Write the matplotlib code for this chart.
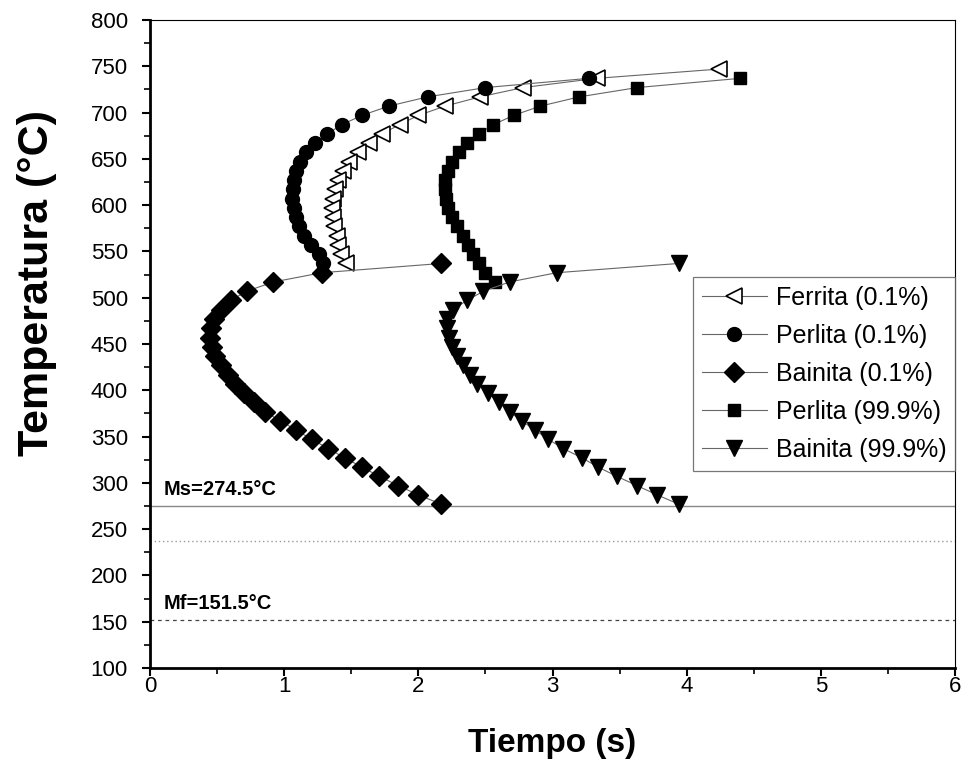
import matplotlib
matplotlib.use("Agg")
import matplotlib.pyplot as plt
from matplotlib.ticker import MultipleLocator

plt.rcParams["font.family"] = ["Liberation Sans", "DejaVu Sans"]

# CCT curves: temperature (°C) vs time (s) for each phase / fraction
temp_ferrita = [747, 737, 727, 717, 707, 697, 687, 677, 667, 657, 647, 637,
                627, 617, 607, 597, 587, 577, 567, 557, 547, 537]
time_ferrita = [4.24, 3.33, 2.78, 2.46, 2.20, 2.00, 1.86, 1.73, 1.63, 1.55, 1.48, 1.44,
                1.40, 1.38, 1.365, 1.36, 1.365, 1.375, 1.39, 1.40, 1.42, 1.46]

temp_perlita_01 = [737, 727, 717, 707, 697, 687, 677, 667, 657, 647, 637,
                   627, 617, 607, 597, 587, 577, 567, 557, 547, 537]
time_perlita_01 = [3.27, 2.50, 2.07, 1.78, 1.58, 1.43, 1.32, 1.23, 1.16, 1.12, 1.09,
                   1.075, 1.065, 1.06, 1.07, 1.085, 1.11, 1.15, 1.20, 1.26, 1.29]

temp_bainita_01 = [537, 527, 517, 507, 497, 487, 477, 467, 457, 447, 437, 427, 417, 407,
                   397, 387, 377, 367, 357, 347, 337, 327, 317, 307, 297, 287, 277]
time_bainita_01 = [2.17, 1.28, 0.92, 0.72, 0.60, 0.53, 0.48, 0.455, 0.449, 0.46, 0.488,
                   0.526, 0.58, 0.637, 0.70, 0.775, 0.855, 0.97, 1.09, 1.205, 1.33,
                   1.45, 1.58, 1.71, 1.85, 2.00, 2.17]

temp_perlita_999 = [737, 727, 717, 707, 697, 687, 677, 667, 657, 647, 637, 627,
                    617, 607, 597, 587, 577, 567, 557, 547, 537, 527, 517]
time_perlita_999 = [4.40, 3.63, 3.20, 2.91, 2.71, 2.56, 2.45, 2.36, 2.30, 2.25, 2.22, 2.20,
                    2.20, 2.205, 2.22, 2.25, 2.29, 2.33, 2.37, 2.41, 2.45, 2.50, 2.57]

temp_bainita_999 = [537, 527, 517, 507, 497, 487, 477, 467, 457, 447, 437, 427, 417, 407,
                    397, 387, 377, 367, 357, 347, 337, 327, 317, 307, 297, 287, 277]
time_bainita_999 = [3.94, 3.03, 2.68, 2.485, 2.36, 2.26, 2.215, 2.21, 2.225, 2.25, 2.29,
                    2.33, 2.385, 2.44, 2.52, 2.60, 2.68, 2.77, 2.87, 2.97, 3.08,
                    3.22, 3.34, 3.48, 3.63, 3.78, 3.94]

ms_temp = 274.5
mid_temp = 237.5
mf_temp = 151.5

fig = plt.figure(figsize=(9.66, 7.76), dpi=100)
ax = fig.add_axes([0.1553, 0.1392, 0.8333, 0.835])

line_kw = dict(color="#666666", linewidth=0.8)

ax.plot(time_ferrita, temp_ferrita, marker="<", markersize=11, markerfacecolor="white",
        markeredgecolor="black", markeredgewidth=1.2, label="Ferrita (0.1%)", **line_kw)
ax.plot(time_perlita_01, temp_perlita_01, marker="o", markersize=10, markerfacecolor="black",
        markeredgecolor="black", label="Perlita (0.1%)", **line_kw)
ax.plot(time_bainita_01, temp_bainita_01, marker="D", markersize=10, markerfacecolor="black",
        markeredgecolor="black", label="Bainita (0.1%)", **line_kw)
ax.plot(time_perlita_999, temp_perlita_999, marker="s", markersize=9, markerfacecolor="black",
        markeredgecolor="black", label="Perlita (99.9%)", **line_kw)
ax.plot(time_bainita_999, temp_bainita_999, marker="v", markersize=12, markerfacecolor="black",
        markeredgecolor="black", label="Bainita (99.9%)", **line_kw)

# martensite start / finish reference lines
ax.axhline(ms_temp, color="#888888", linewidth=1.0, zorder=1)
ax.axhline(mid_temp, color="#999999", linewidth=1.0, linestyle=(0, (1, 2)), zorder=1)
ax.axhline(mf_temp, color="#444444", linewidth=0.9, linestyle=(0, (3, 3)), zorder=1)
ax.text(0.1, ms_temp + 8, "Ms=274.5°C", fontsize=14.5, fontweight="bold", va="bottom")
ax.text(0.1, mf_temp + 8, "Mf=151.5°C", fontsize=14.5, fontweight="bold", va="bottom")

ax.set_xlim(0, 6)
ax.set_ylim(100, 800)
ax.xaxis.set_major_locator(MultipleLocator(1))
ax.xaxis.set_minor_locator(MultipleLocator(0.5))
ax.yaxis.set_major_locator(MultipleLocator(50))
ax.yaxis.set_minor_locator(MultipleLocator(25))
ax.tick_params(which="major", direction="out", length=6, width=1.5, labelsize=16)
ax.tick_params(axis="y", which="major", pad=10)
ax.tick_params(axis="x", which="major", pad=0)
ax.tick_params(which="minor", direction="out", length=4, width=1.2)

for side in ("left", "bottom"):
    ax.spines[side].set_linewidth(2)
for side in ("top", "right"):
    ax.spines[side].set_linewidth(0.8)

ax.set_xlabel("Tiempo (s)", fontsize=24, fontweight="bold", labelpad=22)
ax.set_ylabel("Temperatura (°C)", fontsize=31, fontweight="bold")
ax.yaxis.set_label_coords(-0.116, 0.594)

leg = ax.legend(loc="upper right", bbox_to_anchor=(1.0, 0.603), fontsize=18,
                frameon=True, fancybox=False, handlelength=2.6, handletextpad=0.35,
                borderpad=0.35, labelspacing=0.56, borderaxespad=0)
leg.get_frame().set_edgecolor("#555555")
leg.get_frame().set_linewidth(0.9)

fig.savefig("out.png", dpi=100)
